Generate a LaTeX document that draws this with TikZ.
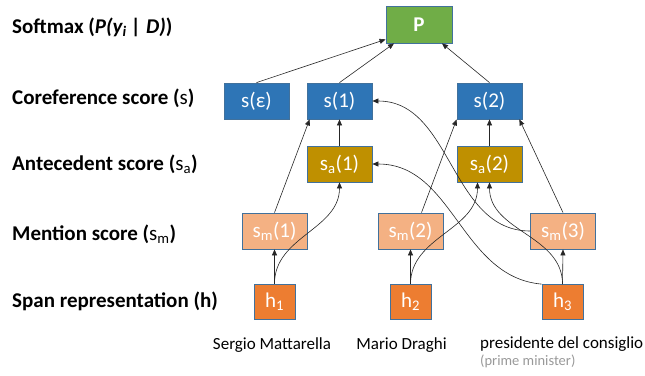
\documentclass[tikz,border=0pt]{standalone}
\usepackage{fontspec}
\setmainfont{Carlito}
\usetikzlibrary{arrows.meta}
\definecolor{softgreen}{HTML}{70AD47}
\definecolor{corefblue}{HTML}{2E75B6}
\definecolor{antegold}{HTML}{BF9000}
\definecolor{mentpeach}{HTML}{F4B183}
\definecolor{spanorange}{HTML}{ED7D31}
\definecolor{boxedge}{HTML}{41719C}

\begin{document}
\begin{tikzpicture}[x=1pt, y=1pt,
	every node/.style={font=\fontsize{21}{24}\selectfont},
	box/.style={draw=boxedge, line width=0.8pt, text=white, inner sep=0pt, minimum width=65pt, minimum height=36pt},
	spanbox/.style={box, fill=spanorange, minimum width=41pt, minimum height=35pt},
	rowlabel/.style={anchor=base west, inner sep=0pt, font=\fontsize{21}{24}\selectfont\bfseries},
	word/.style={anchor=base, inner sep=0pt, font=\fontsize{17}{20}\selectfont},
	link/.style={draw=black!85, line width=0.6pt, -{Triangle[length=6pt, width=5pt]}}]
	\useasboundingbox (0,0) rectangle (645,-375);
	% row labels
	\node[rowlabel] (lsoft) at (12,-33) {Softmax (\textit{P(y\textsubscript{i} | D)})};
	\node[rowlabel] (lcoref) at (12,-104) {Coreference score ({\mdseries s})};
	\node[rowlabel] (lante) at (12,-170) {Antecedent score ({\mdseries s\textsubscript{a}})};
	\node[rowlabel] (lment) at (12,-240) {Mention score ({\mdseries s\textsubscript{m}})};
	\node[rowlabel] (lspan) at (12,-307) {Span representation (h)};
	% boxes
	\node[box, fill=softgreen, minimum width=66pt, minimum height=37pt, font=\fontsize{21}{24}\selectfont\bfseries] (P) at (419,-24.5) {P};
	\node[box, fill=corefblue] (seps) at (256.5,-101) {s(ε)};
	\node[box, fill=corefblue] (s1) at (339.5,-101) {s(1)};
	\node[box, fill=corefblue] (s2) at (489.5,-101) {s(2)};
	\node[box, fill=antegold] (sa1) at (339.5,-164) {s\textsubscript{a}(1)};
	\node[box, fill=antegold] (sa2) at (489.5,-164) {s\textsubscript{a}(2)};
	\node[box, fill=mentpeach] (sm1) at (274.5,-231) {s\textsubscript{m}(1)};
	\node[box, fill=mentpeach] (sm2) at (410.5,-231) {s\textsubscript{m}(2)};
	\node[box, fill=mentpeach] (sm3) at (563,-231) {s\textsubscript{m}(3)};
	\node[spanbox] (h1) at (274.5,-301.5) {h\textsubscript{1}};
	\node[spanbox] (h2) at (410.5,-302) {h\textsubscript{2}};
	\node[spanbox] (h3) at (562.5,-302) {h\textsubscript{3}};
	% words
	\node[word] (w1) at (272,-349) {Sergio Mattarella};
	\node[word] (w2) at (401.5,-349) {Mario Draghi};
	\node[word, anchor=base west] (w3) at (480,-348) {presidente del consiglio};
	\node[word, anchor=base west, text=black!40, font=\fontsize{14.5}{16}\selectfont] (gloss) at (480,-365) {(prime minister)};
	% into the softmax
	\draw[link] (seps.north) -- ([yshift=4pt]P.south west);
	\draw[link] (s1.north) -- ([xshift=-25pt]P.south);
	\draw[link] (s2.north) -- ([xshift=23pt]P.south);
	% straight links
	\draw[link] (sa1.north) -- (s1.south);
	\draw[link] (sa2.north) -- (s2.south);
	\draw[link] (sm1.north) -- ([xshift=3pt]s1.south west);
	\draw[link] ([xshift=11pt]sm2.north) -- (s2.south west);
	\draw[link] (sm3.north) -- ([xshift=-3pt]s2.south east);
	\draw[link] (h1.north) -- (sm1.south);
	\draw[link] (h2.north) -- (sm2.south);
	\draw[link] (h3.north) -- (sm3.south);
	% curved links
	\draw[link] (h1.north) to[out=90, in=-90] (sa1.south);
	\draw[link] (h2.north) to[out=90, in=-90] ([xshift=-12pt]sa2.south);
	\draw[link] (h3.north) to[out=90, in=-90] (sa2.south);
	\draw[link] (h3.north west) to[out=175, in=0] (sa1.east);
	\draw[link] (sm3.west) to[out=180, in=0] (s1.east);
\end{tikzpicture}
\end{document}
